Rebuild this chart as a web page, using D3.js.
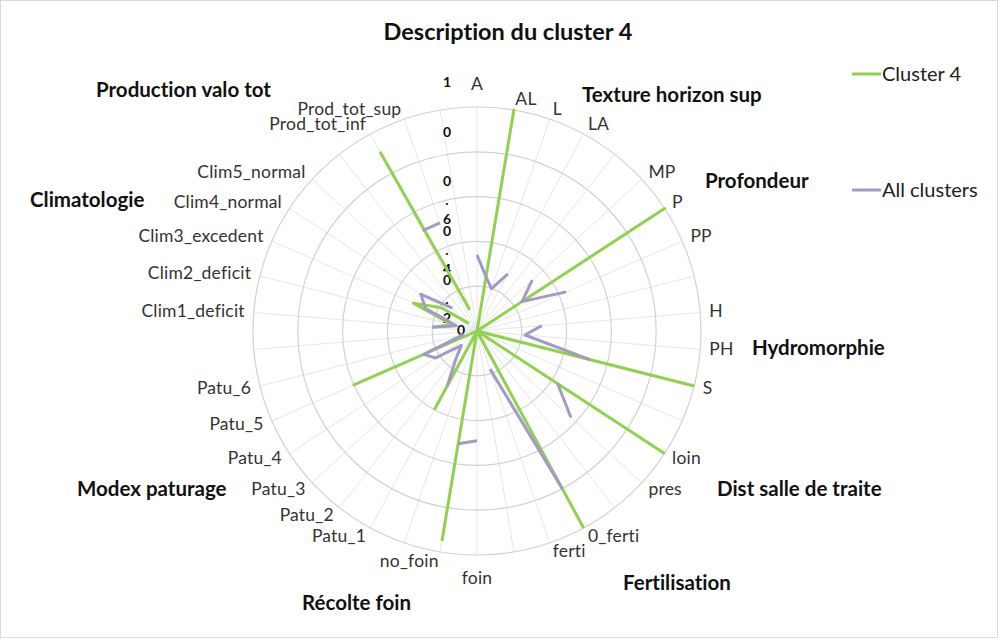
<!DOCTYPE html>
<html>
<head>
<meta charset="utf-8">
<script src="https://cdn.jsdelivr.net/npm/d3@7"></script>
<style>
  body { margin: 0; background: #fff; }
  svg { display: block; }
  text { font-family: Lato, "Open Sans", sans-serif; font-variant-ligatures: none; }
</style>
</head>
<body>
<svg id="chart" width="1000" height="641"></svg>
<script>
// categories, blank entries are the spacer spokes between groups
const categories = ["A", "AL", "L", "LA", "", "MP", "P", "PP", "", "H", "PH", "S", "",
  "loin", "pres", "", "0_ferti", "ferti", "", "foin", "no_foin", "",
  "Patu_1", "Patu_2", "Patu_3", "Patu_4", "Patu_5", "Patu_6", "",
  "Clim1_deficit", "Clim2_deficit", "Clim3_excedent", "Clim4_normal", "Clim5_normal", "",
  "Prod_tot_inf", "Prod_tot_sup", ""];

const cluster4 = [0, 1, 0, 0, null, 0, 1, 0, null, 0, 0, 1, null,
  1, 0, null, 1, 0, null, 0, 0.95, null,
  0.4, 0, 0, 0, 0.6, 0, null,
  0.2, 0.115, 0.31, 0.19, 0.05, null,
  0.91, 0.1, null];

const allClusters = [0.34, 0.245, 0.2, 0.29, null, 0.335, 0.24, 0.435, null, 0.29, 0.215, 0.52, null,
  0.43, 0.57, null, 0.8, 0.18, null, 0.49, 0.51, null,
  0.28, 0.15, 0.095, 0.22, 0.26, 0.06, null,
  0.2, 0.095, 0.25, 0.3, 0.15, null,
  0.51, 0.51, null];

const seriesNames = ["Cluster 4", "All clusters"];

const tickValues = [0, 0.2, 0.4, 0.6, 0.8, 1];
// excel wraps the tick labels in a narrow box, 0.8 only shows its "0"
const tickLabels = ["0", "0.2", "0.4", "0.6", "0", "1"];

const groupNames = ["Production valo tot", "Texture horizon sup", "Profondeur", "Climatologie",
  "Hydromorphie", "Dist salle de traite", "Modex paturage", "Fertilisation", "Récolte foin"];

// text box placement of the group names (left x, middle y)
const groupPos = [[96, 90], [582, 95], [705, 181], [30, 200], [752, 348],
  [717, 489], [77, 489], [623, 583], [302, 603]];

const CX = 477, CY = 331, R = 224;
const GREEN = "#92d050", GREY = "#a29bc5";

const svg = d3.select("#chart");

svg.append("rect")
  .attr("x", 0.5).attr("y", 0.5)
  .attr("width", 997).attr("height", 637)
  .attr("fill", "#fff")
  .attr("stroke", "#d9d9d9");

svg.append("text")
  .attr("x", 508).attr("y", 40)
  .attr("text-anchor", "middle")
  .attr("font-size", 23.5).attr("font-weight", "bold")
  .attr("fill", "#111")
  .text("Description du cluster 4");

const angle = d3.scaleLinear().domain([0, categories.length]).range([0, 2 * Math.PI]);
const r = d3.scaleLinear().domain([0, 1]).range([0, R]);

const g = svg.append("g").attr("transform", `translate(${CX},${CY})`);

// spokes
g.append("g")
  .selectAll("line")
  .data(categories)
  .enter()
  .append("line")
  .attr("x1", 0).attr("y1", 0)
  .attr("x2", (d, i) => r(1) * Math.sin(angle(i)))
  .attr("y2", (d, i) => -r(1) * Math.cos(angle(i)))
  .attr("stroke", "#e6e6e6")
  .attr("stroke-width", 1);

// rings
g.append("g")
  .selectAll("circle")
  .data(tickValues.filter(v => v > 0))
  .enter()
  .append("circle")
  .attr("r", d => r(d))
  .attr("fill", "none")
  .attr("stroke", "#d2d2d2")
  .attr("stroke-width", 1.2);

// category labels
g.append("g")
  .selectAll("text")
  .data(categories.map((c, i) => ({c, i})).filter(d => d.c !== ""))
  .enter()
  .append("text")
  .each(function(d) {
    const a = angle(d.i), s = Math.sin(a), c = Math.cos(a);
    const ex = r(1) * s, ey = -r(1) * c;
    const t = d3.select(this);
    if (Math.abs(s) < 0.01) {
      t.attr("x", ex).attr("y", ey - c * 23).attr("text-anchor", "middle");
    } else {
      t.attr("x", ex + 9 * s).attr("y", ey - 10 * c - 1)
        .attr("text-anchor", s > 0 ? "start" : "end");
    }
  })
  .attr("dy", "0.35em")
  .attr("font-size", 17.5)
  .attr("letter-spacing", 0.2)
  .attr("fill", "#333")
  .text(d => d.c);

// tick labels
const tickY = d3.scaleLinear().domain([0, 1]).range([CY - 1, 82]);
tickValues.forEach((v, k) => {
  const chars = tickLabels[k].split("");
  g.append("text")
    .attr("font-size", 14).attr("font-weight", "bold")
    .attr("fill", "#111")
    .attr("text-anchor", "middle")
    .selectAll("tspan")
    .data(chars)
    .enter()
    .append("tspan")
    .attr("x", v === 0 ? -16 : -30)
    .attr("y", (d, j) => tickY(v) - CY + j * 19)
    .attr("dy", "0.35em")
    .text(d => d);
});

// series
const line = d3.lineRadial()
  .defined(d => d != null)
  .angle((d, i) => angle(i))
  .radius(d => r(d));

[[cluster4, GREEN], [allClusters, GREY]].forEach(([vals, col]) => {
  g.append("path")
    .attr("d", line(vals))
    .attr("fill", "none")
    .attr("stroke", col)
    .attr("stroke-width", 3)
    .attr("stroke-linejoin", "round");
});

// group names
svg.append("g")
  .selectAll("text")
  .data(groupNames)
  .enter()
  .append("text")
  .attr("x", (d, i) => groupPos[i][0])
  .attr("y", (d, i) => groupPos[i][1])
  .attr("dy", "0.35em")
  .attr("font-size", 20.5).attr("font-weight", "bold")
  .attr("fill", "#111")
  .text(d => d);

// legend
const legend = svg.append("g")
  .selectAll("g")
  .data(seriesNames)
  .enter()
  .append("g")
  .attr("transform", (d, i) => `translate(852,${i === 0 ? 74 : 190})`);

legend.append("line")
  .attr("x1", 0).attr("x2", 29)
  .attr("stroke", (d, i) => i === 0 ? GREEN : GREY)
  .attr("stroke-width", 3);

legend.append("text")
  .attr("x", 30).attr("dy", "0.35em")
  .attr("font-size", 20)
  .attr("fill", "#222")
  .text(d => d);
</script>
</body>
</html>
